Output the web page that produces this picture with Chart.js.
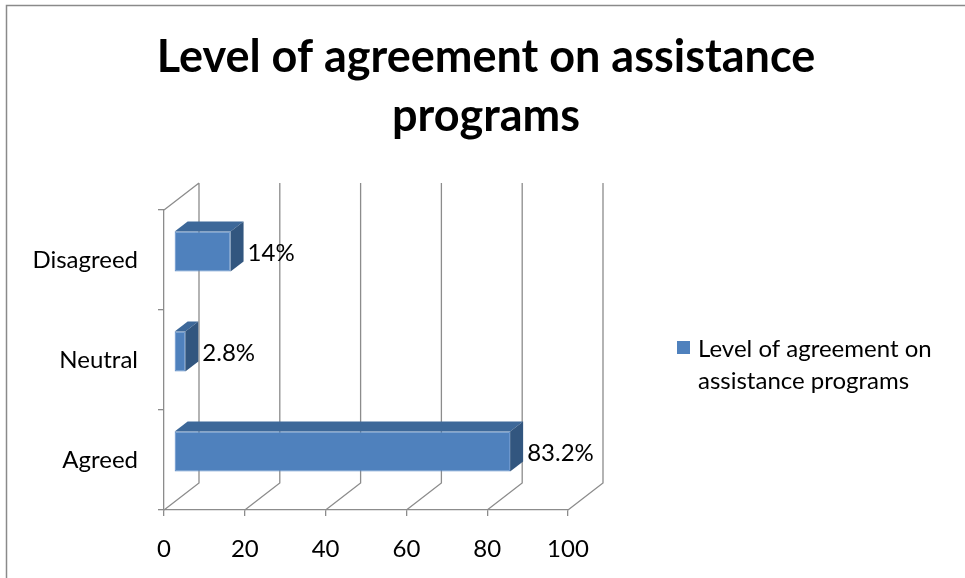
<!DOCTYPE html>
<html>
<head>
<meta charset="utf-8">
<script src="https://cdn.jsdelivr.net/npm/chart.js@4/dist/chart.umd.min.js"></script>
<style>
  html, body { margin: 0; padding: 0; background: #fff; }
  #wrap { width: 965px; height: 578px; position: relative; }
</style>
</head>
<body>
<div id="wrap"><canvas id="c" width="965" height="578"></canvas></div>
<script>
// Chart content
const titleLines = ['Level of agreement on assistance', 'programs'];
const seriesName = ['Level of agreement on', 'assistance programs'];
const categories = ['Disagreed', 'Neutral', 'Agreed'];
const values = [14, 2.8, 83.2];
const xTickValues = [0, 20, 40, 60, 80, 100];

// Styling
const FONT = 'Lato, "Open Sans", sans-serif';
const FRONT = '#4F81BD';
const TOP = '#3D6899';
const SIDE = '#32567F';
const GRID = '#8C8C8C';
const WALL = { dx: 35, dy: -27 };      // depth of the back wall
const BAR_SHIFT = { dx: 10, dy: -8.5 }; // bars sit part-way into the depth
const BAR_DEPTH = { dx: 13, dy: -10 };  // thickness of each bar

const pseudo3d = {
  id: 'pseudo3d',
  beforeDraw(chart) {
    const ctx = chart.ctx;
    ctx.save();
    ctx.fillStyle = '#fff';
    ctx.fillRect(0, 0, chart.width, chart.height);
    // outer frame
    ctx.strokeStyle = '#8A8A8A';
    ctx.lineWidth = 1.5;
    ctx.beginPath();
    ctx.moveTo(6.5, chart.height);
    ctx.lineTo(6.5, 5.5);
    ctx.lineTo(chart.width, 5.5);
    ctx.stroke();
    ctx.restore();
  },
  beforeDatasetsDraw(chart) {
    const ctx = chart.ctx;
    const area = chart.chartArea;
    const xs = chart.scales.x;
    ctx.save();
    ctx.strokeStyle = GRID;
    ctx.lineWidth = 1.3;
    ctx.beginPath();
    // left wall top edge
    ctx.moveTo(area.left, area.top);
    ctx.lineTo(area.left + WALL.dx, area.top + WALL.dy);
    // floor diagonals and back wall verticals
    xTickValues.forEach(v => {
      const px = xs.getPixelForValue(v);
      ctx.moveTo(px, area.bottom);
      ctx.lineTo(px + WALL.dx, area.bottom + WALL.dy);
      ctx.lineTo(px + WALL.dx, area.top + WALL.dy);
    });
    ctx.stroke();
    ctx.restore();
    ctx.save();
    ctx.translate(BAR_SHIFT.dx, BAR_SHIFT.dy);
  },
  afterDatasetsDraw(chart) {
    const ctx = chart.ctx;
    const meta = chart.getDatasetMeta(0);
    meta.data.forEach(el => {
      const p = el.getProps(['x', 'y', 'base', 'height'], true);
      const top = p.y - p.height / 2, bottom = p.y + p.height / 2;
      // top face
      ctx.fillStyle = TOP;
      ctx.beginPath();
      ctx.moveTo(p.base, top);
      ctx.lineTo(p.x, top);
      ctx.lineTo(p.x + BAR_DEPTH.dx, top + BAR_DEPTH.dy);
      ctx.lineTo(p.base + BAR_DEPTH.dx, top + BAR_DEPTH.dy);
      ctx.closePath();
      ctx.fill();
      // end face
      ctx.fillStyle = SIDE;
      ctx.beginPath();
      ctx.moveTo(p.x, top);
      ctx.lineTo(p.x, bottom);
      ctx.lineTo(p.x + BAR_DEPTH.dx, bottom + BAR_DEPTH.dy);
      ctx.lineTo(p.x + BAR_DEPTH.dx, top + BAR_DEPTH.dy);
      ctx.closePath();
      ctx.fill();
    });
    ctx.restore();
    // value labels beside each bar
    ctx.save();
    ctx.fillStyle = '#000';
    ctx.font = '24px ' + FONT;
    ctx.textBaseline = 'middle';
    ctx.textAlign = 'left';
    meta.data.forEach((el, i) => {
      const p = el.getProps(['x', 'y'], true);
      ctx.fillText(values[i] + '%', p.x + BAR_SHIFT.dx + BAR_DEPTH.dx + 4, p.y + BAR_SHIFT.dy + 2);
    });
    ctx.restore();
  },
  afterDraw(chart) {
    const ctx = chart.ctx;
    ctx.save();
    // title
    ctx.fillStyle = '#000';
    ctx.font = 'bold 45px ' + FONT;
    ctx.textAlign = 'center';
    ctx.textBaseline = 'middle';
    ctx.fillText(titleLines[0], 486, 57);
    ctx.fillText(titleLines[1], 486, 116);
    // legend
    ctx.fillStyle = FRONT;
    ctx.fillRect(677, 341, 13, 13);
    ctx.fillStyle = '#000';
    ctx.font = '24px ' + FONT;
    ctx.textAlign = 'left';
    ctx.fillText(seriesName[0], 698, 349);
    ctx.fillText(seriesName[1], 698, 381);
    ctx.restore();
  }
};

new Chart(document.getElementById('c'), {
  type: 'bar',
  data: {
    labels: categories,
    datasets: [{
      label: seriesName.join(' '),
      data: values,
      backgroundColor: FRONT,
      borderColor: '#5B8CC8',
      borderWidth: 1,
      borderSkipped: false,
      barPercentage: 0.4,
      categoryPercentage: 1,
      clip: false
    }]
  },
  options: {
    indexAxis: 'y',
    responsive: false,
    animation: false,
    devicePixelRatio: 1,
    layout: { padding: { left: 0, top: 210, right: 397, bottom: 0 } },
    plugins: {
      legend: { display: false },
      title: { display: false },
      tooltip: { enabled: false }
    },
    scales: {
      x: {
        min: 0,
        max: 100,
        afterBuildTicks: axis => { axis.ticks = xTickValues.map(v => ({ value: v })); },
        afterFit: axis => { axis.height = 68; },
        grid: { drawOnChartArea: false, drawTicks: true, tickLength: 6, color: GRID, lineWidth: 1.3 },
        border: { display: true, color: GRID, width: 1.3 },
        ticks: { color: '#000', font: { family: FONT, size: 24 }, padding: 19, maxRotation: 0 }
      },
      y: {
        afterFit: axis => { axis.width = 164; },
        grid: { offset: true, drawOnChartArea: false, drawTicks: true, tickLength: 6, color: GRID, lineWidth: 1.3 },
        border: { display: true, color: GRID, width: 1.3 },
        ticks: { color: '#000', font: { family: FONT, size: 24 }, padding: 20 }
      }
    }
  },
  plugins: [pseudo3d]
});
</script>
</body>
</html>
